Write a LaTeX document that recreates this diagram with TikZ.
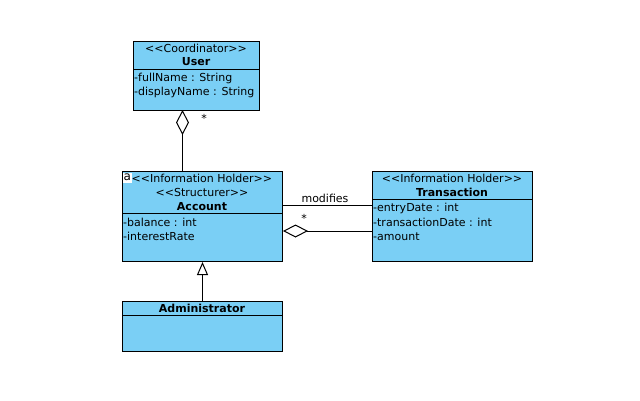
\documentclass[tikz,border=0pt]{standalone}
\usepackage{fontspec}
\newfontfamily\dv{DejaVu Sans}
\usetikzlibrary{arrows.meta}
\definecolor{clsfill}{HTML}{7ACFF5}
\tikzset{
  cls/.style={draw=black, fill=clsfill, line width=1pt, rectangle, anchor=north west, inner sep=0pt},
  txt/.style={inner sep=0pt, font=\dv\fontsize{11}{13}\selectfont},
  bold/.style={txt, font=\dv\fontsize{11}{13}\selectfont\bfseries},
  attr/.style={txt, anchor=west},
  conn/.style={line width=1pt, draw=black},
  absicon/.style={fill=white, inner sep=0pt, minimum width=9pt, minimum height=10pt, anchor=north west, font=\dv\fontsize{12}{13}\selectfont}
}
\begin{document}
\begin{tikzpicture}[x=1pt,y=-1pt]
\useasboundingbox (0,0) rectangle (640,400);
\fill[white] (0,0) rectangle (640,400);

% User
\node[cls, minimum width=126pt, minimum height=69pt] (user) at (133,41) {};
\draw[conn] (133,69) -- (259,69);
\node[txt] (userst) at (196,48) {<<Coordinator>>};
\node[bold] (username) at (196,62) {User};
\node[attr] (ua1) at (134,78) {-fullName : String};
\node[attr] (ua2) at (134,92.5) {-displayName : String};

% Account
\node[cls, minimum width=160pt, minimum height=90pt] (acc) at (122,171) {};
\draw[conn] (122,213) -- (282,213);
\node[absicon] (abs) at (122.5,172.5) {a};
\node[txt, anchor=west] (accst1) at (131.5,178.5) {<<Information Holder>>};
\node[txt] (accst2) at (202,192.5) {<<Structurer>>};
\node[bold] (accname) at (202,206.5) {Account};
\node[attr] (aa1) at (123,222.5) {-balance : int};
\node[attr] (aa2) at (123,236.5) {-interestRate};

% Transaction
\node[cls, minimum width=160pt, minimum height=90pt] (tr) at (372,171) {};
\draw[conn] (372,199) -- (532,199);
\node[txt] (trst) at (452,178.5) {<<Information Holder>>};
\node[bold] (trname) at (452,192.5) {Transaction};
\node[attr] (ta1) at (373,208.5) {-entryDate : int};
\node[attr] (ta2) at (373,222.5) {-transactionDate : int};
\node[attr] (ta3) at (373,236.5) {-amount};

% Administrator
\node[cls, minimum width=160pt, minimum height=50pt] (adm) at (122,301) {};
\draw[conn] (122,315) -- (282,315);
\node[bold] (admname) at (202,308.5) {Administrator};

% connectors
\coordinate (uagg) at (182.5,110);
\coordinate (aagg) at (182.5,171);
\draw[conn, {Diamond[open, length=25pt, width=13pt, line width=1pt]}-] (uagg) -- (aagg);
\node[txt] (star1) at (204,118) {*};

\draw[conn] (acc.east |- 0,205) -- (tr.west |- 0,205);
\node[txt] (mod) at (325,198.5) {modifies};

\draw[conn, {Diamond[open, length=25pt, width=13pt, line width=1pt]}-] (acc.east |- 0,231) -- (tr.west |- 0,231);
\node[txt] (star2) at (304,218) {*};

\draw[conn, {Triangle[open, length=13pt, width=11pt, line width=1pt]}-] (acc.south) -- (adm.north);
\end{tikzpicture}
\end{document}
